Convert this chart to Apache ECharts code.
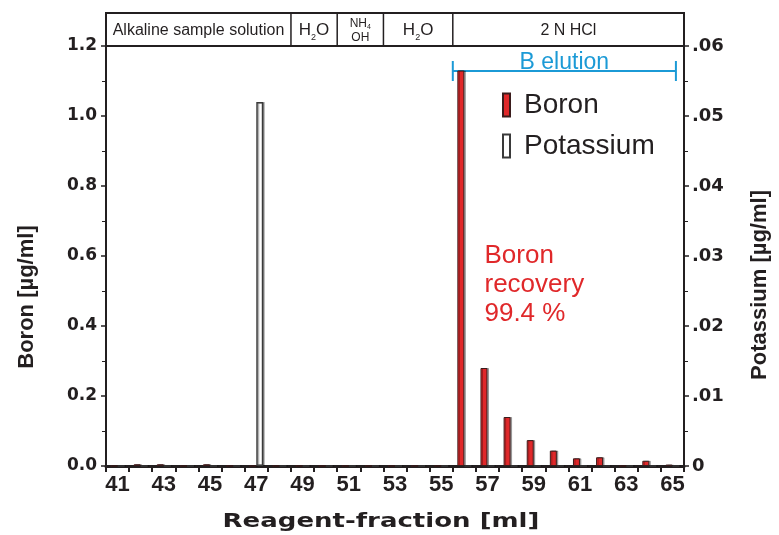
<!DOCTYPE html>
<html>
<head>
<meta charset="utf-8">
<script src="https://cdn.jsdelivr.net/npm/echarts@6/dist/echarts.min.js"></script>
<style>
  html, body { margin: 0; padding: 0; background: #fff; }
  #c { width: 779px; height: 535px; }
</style>
</head>
<body>
<div id="c"></div>
<script>
// Reagent fractions (ml)
const fractions = ['41','42','43','44','45','46','47','48','49','50','51','52','53',
                   '54','55','56','57','58','59','60','61','62','63','64','65'];
// Boron concentration per fraction [µg/ml]
const boron = [0, 0.005, 0.005, 0, 0.005, 0, 0, 0, 0, 0, 0, 0, 0,
               0, 0, 1.13, 0.28, 0.14, 0.074, 0.044, 0.022, 0.025, 0, 0.015, 0.004];
// Potassium concentration per fraction [µg/ml]
const potassium = [0, 0, 0, 0, 0, 0, 0.052, 0, 0, 0, 0, 0, 0,
                   0, 0, 0, 0, 0, 0, 0, 0, 0, 0, 0, 0];

// Eluent sequence shown above the plot: first and last fraction of each step
const stepLabels = ['{n|Alkaline sample solution}', '{b|H}{s|2}{b|O}', '{m|NH}{t|4}\n{m|OH}', '{b|H}{s|2}{b|O}', '{n|2 N HCl}'];
const stepFrom = ['41', '49', '51', '53', '56'];
const stepTo   = ['48', '50', '52', '55', '65'];

// Boron elution window
const elutionFrom = '56';
const elutionTo = '65';
const recoveryText = 'Boron\nrecovery\n99.4 %';

const ink = '#231f20';
const red = '#e0282a';
const blue = '#1b9ad6';

const chart = echarts.init(document.getElementById('c'), null, { renderer: 'canvas' });

const option = {
  animation: false,
  backgroundColor: '#fff',
  grid: { left: 106, right: 95, top: 46, bottom: 69, containLabel: false },
  legend: {
    orient: 'vertical',
    left: 497, top: 86,
    itemWidth: 7, itemHeight: 23, itemGap: 13,
    icon: 'rect',
    textStyle: { fontFamily: 'Liberation Sans', fontSize: 28, color: ink, padding: [0, 0, 0, 9] },
    data: ['Boron', 'Potassium']
  },
  xAxis: {
    type: 'category',
    data: fractions,
    boundaryGap: true,
    axisLine: { lineStyle: { color: ink, width: 3 } },
    axisTick: { show: true, interval: 0, length: 6, lineStyle: { color: ink, width: 2 } },
    axisLabel: { interval: 1, margin: 8, fontFamily: 'Liberation Sans', fontWeight: 'bold', fontSize: 22, color: ink },
    splitLine: { show: false }
  },
  yAxis: [
    {
      type: 'value', min: 0, max: 1.2, interval: 0.2, position: 'left',
      axisLine: { show: true, lineStyle: { color: ink, width: 2 } },
      axisTick: { show: true, length: 5, lineStyle: { color: ink, width: 1.5 } },
      minorTick: { show: true, splitNumber: 2, length: 4, lineStyle: { color: ink, width: 1 } },
      axisLabel: { margin: 9, fontFamily: 'DejaVu Sans', fontWeight: 'bold', fontSize: 17, color: ink,
                   formatter: v => v.toFixed(1) },
      splitLine: { show: false }
    },
    {
      type: 'value', min: 0, max: 0.06, interval: 0.01, position: 'right',
      axisLine: { show: true, lineStyle: { color: ink, width: 2 } },
      axisTick: { show: true, length: 5, lineStyle: { color: ink, width: 1.5 } },
      minorTick: { show: true, splitNumber: 2, length: 4, lineStyle: { color: ink, width: 1 } },
      axisLabel: { margin: 8, fontFamily: 'DejaVu Sans', fontWeight: 'bold', fontSize: 18, color: ink,
                   formatter: v => (v === 0 ? '0' : v.toFixed(2).replace(/^0/, '')) },
      splitLine: { show: false }
    }
  ],
  series: [
    {
      name: 'Boron', type: 'bar', yAxisIndex: 0, data: boron,
      barWidth: 7, barGap: '0%',
      itemStyle: { color: red, borderColor: '#3a1c1c', borderWidth: 1,
                   shadowColor: 'rgba(0,0,0,0.3)', shadowBlur: 0, shadowOffsetX: 1.5 }
    },
    {
      name: 'Potassium', type: 'bar', yAxisIndex: 1, data: potassium,
      barWidth: 7, barGap: '0%',
      itemStyle: { color: '#fff', borderColor: '#3a3a3a', borderWidth: 1.5,
                   shadowColor: 'rgba(0,0,0,0.3)', shadowBlur: 0, shadowOffsetX: 1.5 }
    }
  ]
};

chart.setOption(option);

// Overlay elements placed from the category axis
const cx = f => chart.convertToPixel({ xAxisIndex: 0 }, f);
const band = cx(fractions[1]) - cx(fractions[0]);
const leftEdge = f => cx(f) - band / 2;
const rightEdge = f => cx(f) + band / 2;
const plotTop = chart.convertToPixel({ yAxisIndex: 0 }, 1.2);
const headerTop = plotTop - 33;

const richHeader = {
  n: { fontFamily: 'Liberation Sans', fontSize: 16, color: ink },
  b: { fontFamily: 'Liberation Sans', fontSize: 17, color: ink, verticalAlign: 'middle', lineHeight: 20 },
  s: { fontFamily: 'Liberation Sans', fontSize: 9, color: ink, verticalAlign: 'bottom', lineHeight: 20, padding: [0, 0, -2, 0] },
  m: { fontFamily: 'Liberation Sans', fontSize: 12, color: ink, lineHeight: 14 },
  t: { fontFamily: 'Liberation Sans', fontSize: 7, color: ink, lineHeight: 14, verticalAlign: 'bottom' }
};

const graphics = [];
const boxLeft = leftEdge(stepFrom[0]);
const boxRight = rightEdge(stepTo[stepTo.length - 1]);
graphics.push({
  type: 'rect', silent: true,
  shape: { x: boxLeft, y: headerTop, width: boxRight - boxLeft, height: plotTop - headerTop },
  style: { fill: '#fff', stroke: ink, lineWidth: 2 }
});
stepLabels.forEach((lab, i) => {
  const x0 = leftEdge(stepFrom[i]);
  const x1 = rightEdge(stepTo[i]);
  if (i > 0) {
    graphics.push({ type: 'line', silent: true,
      shape: { x1: x0, y1: headerTop, x2: x0, y2: plotTop },
      style: { stroke: ink, lineWidth: 1.5 } });
  }
  graphics.push({
    type: 'text', silent: true,
    x: (x0 + x1) / 2, y: (headerTop + plotTop) / 2 + 1,
    style: { text: lab, rich: richHeader, align: 'center', verticalAlign: 'middle', fill: ink }
  });
});

// B elution bracket
const eX0 = leftEdge(elutionFrom);
const eX1 = cx(elutionTo) + band * 0.15;
const eY = plotTop + 25;
graphics.push(
  { type: 'line', silent: true, shape: { x1: eX0, y1: eY, x2: eX1, y2: eY }, style: { stroke: blue, lineWidth: 2 } },
  { type: 'line', silent: true, shape: { x1: eX0, y1: eY - 10, x2: eX0, y2: eY + 10 }, style: { stroke: blue, lineWidth: 2 } },
  { type: 'line', silent: true, shape: { x1: eX1, y1: eY - 10, x2: eX1, y2: eY + 10 }, style: { stroke: blue, lineWidth: 2 } },
  { type: 'text', silent: true, x: (eX0 + eX1) / 2, y: eY + 3,
    style: { text: 'B elution', fontFamily: 'Liberation Sans', fontSize: 23, fill: blue, align: 'center', verticalAlign: 'bottom' } }
);

// Recovery note
graphics.push({
  type: 'text', silent: true, x: cx('57') - 3, y: 241,
  style: { text: recoveryText, fontFamily: 'Liberation Sans', fontSize: 26, lineHeight: 29, fill: red, align: 'left', verticalAlign: 'top' }
});

// Axis titles
const titleFont = { fontFamily: 'Liberation Sans', fontWeight: 'bold', fontSize: 22, fill: ink, align: 'center', verticalAlign: 'middle' };
graphics.push(
  { type: 'text', silent: true, x: 27, y: 297, rotation: Math.PI / 2,
    style: Object.assign({ text: 'Boron [µg/ml]' }, titleFont) },
  { type: 'text', silent: true, x: 760, y: 285, rotation: Math.PI / 2,
    style: Object.assign({ text: 'Potassium [µg/ml]' }, titleFont) },
  // wide bold face, stretched horizontally about its own centre
  { type: 'text', silent: true, x: 381, y: 522, scaleX: 1.3,
    style: { text: 'Reagent-fraction [ml]', fontFamily: 'DejaVu Sans', fontWeight: 'bold', fontSize: 20, fill: ink, align: 'center', verticalAlign: 'middle' } }
);

chart.setOption({ graphic: { elements: graphics } });
</script>
</body>
</html>
